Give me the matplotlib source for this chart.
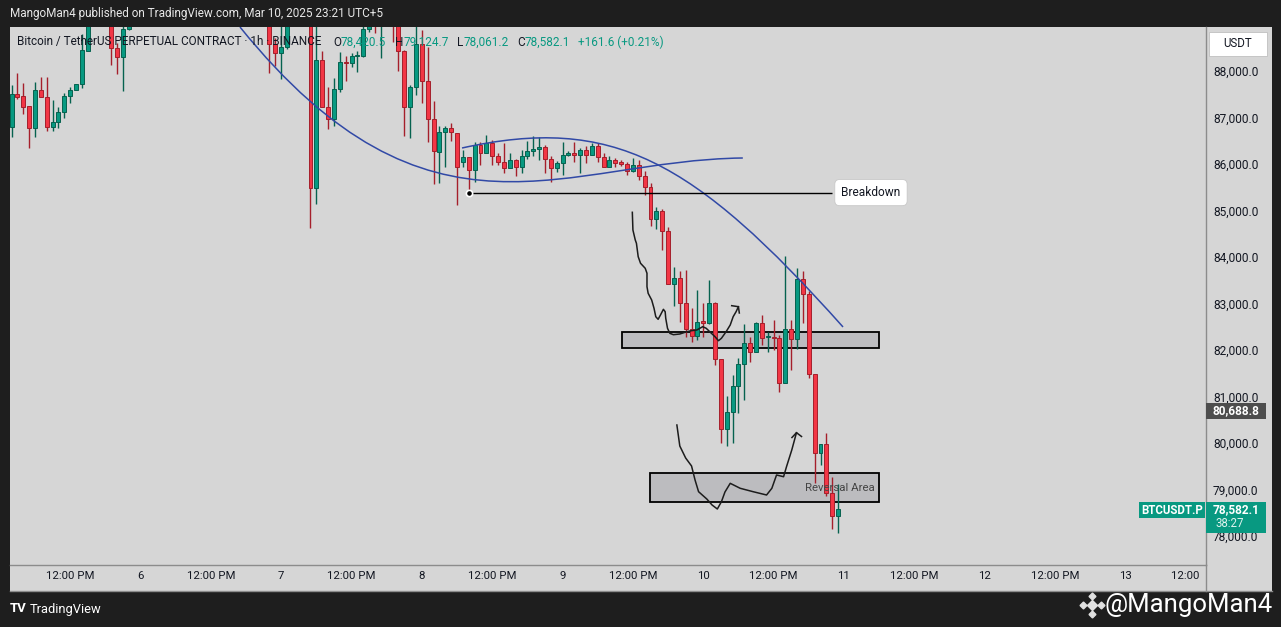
import matplotlib

matplotlib.use("Agg")
import matplotlib.pyplot as plt
import numpy as np
from matplotlib.lines import Line2D
from matplotlib.patches import PathPatch, Rectangle
from matplotlib.path import Path
from matplotlib.transforms import Bbox

W, H = 1281, 627

# hourly candles, Mar 5 02:00 .. Mar 10 23:00 (x = hours since Mar 5 00:00)
first_hour = 2
opens = [
    86800, 87500, 87460, 87250, 86770, 87590, 87430, 86800, 86900, 87110, 87460,
    87585, 87715, 88440, 89200, 89600, 89500, 89300, 88490, 88310, 88900, 89300,
    89600, 90100, 90400, 90200, 89900, 90100, 90700, 91000, 90800, 90500, 90300,
    90000, 90500, 91100, 91400, 91000, 90600, 90300, 89900, 90200, 89800, 89500,
    89400, 88590, 88380, 88510, 89300, 89900, 89800, 89500, 85480, 88240, 87220,
    86960, 87605, 88185, 88165, 88320, 88325, 88900, 89600, 89150, 89500, 89800,
    89400, 88440, 87220, 87650,
    88580, 87790, 86960, 86265, 86695, 86770, 86675, 86050, 86145, 85880, 86410,
    86235, 86450, 86165, 86035, 85915, 86080, 85930, 86165, 86270, 86325, 86365,
    86110, 85915,
    86020, 86195, 86235, 86195, 86300, 86185, 86385, 86145, 85940, 86085, 86035,
    86000, 85855, 85980, 85750, 85510, 84810, 84990, 84565, 83410, 83540, 83015,
    82445, 82310,
    82625, 82590, 83015, 81800, 80295, 80660, 81225, 81695, 82145, 81965, 82575,
    82270, 82280, 82250, 81285, 82445, 82230, 83520, 83200, 81485, 79780, 79980,
    78930, 78420.5,
]
highs = [
    87700, 87960, 87750, 87250, 87760, 87870, 87870, 87375, 87225, 87530, 87660,
    87720, 88800, 89400, 89800, 90100, 89700, 89450, 88600, 89050, 89500, 89800,
    90300, 90600, 90800, 90500, 90300, 90900, 91200, 91400, 91100, 90800, 90600,
    90700, 91300, 91700, 91600, 91200, 90900, 90500, 90400, 90500, 90000, 89900,
    89600, 88700, 89100, 89600, 90100, 90300, 90000, 89800, 89100, 88430, 87660,
    87845, 88400, 88325, 88390, 88430, 89050, 89700, 89900, 89800, 90100, 90000,
    89600, 88460, 87700, 89000,
    88880, 88510, 87355, 86815, 86820, 86880, 86675, 86300, 86145, 86465, 86480,
    86625, 86515, 86230, 86445, 86230, 86110, 86300, 86500, 86600, 86575, 86410,
    86165, 86055,
    86480, 86270, 86480, 86335, 86385, 86445, 86445, 86245, 86165, 86120, 86085,
    86035, 86120, 86085, 85855, 85585, 85070, 85025, 84650, 83780, 83705, 83720,
    82895, 83290,
    83005, 83505, 83040, 81800, 81010, 81460, 81835, 82565, 82270, 82610, 82755,
    82395, 82645, 82325, 84020, 82645, 83755, 83705, 83275, 81485, 79980, 80210,
    79260, 79124.7,
]
lows = [
    86580, 87400, 87075, 86350, 86580, 87430, 86715, 86715, 86780, 86990, 87320,
    87585, 87630, 88440, 89000, 89300, 89050, 88130, 87935, 87575, 88880, 88960,
    89400, 89900, 90000, 89700, 89500, 90000, 90400, 90600, 90300, 90000, 89800,
    89900, 90400, 90900, 90800, 90400, 90100, 89700, 89600, 89700, 89200, 89100,
    87960, 88115, 87820, 88470, 89100, 89500, 89200, 84620, 85150, 87220, 86745,
    86815, 87555, 87790, 88080, 87970, 88300, 88830, 88810, 88285, 89100, 88630,
    88005, 86600, 86550, 87485,
    87320, 86480, 85565, 85585, 85940, 86500, 85120, 85930, 85385, 85620, 85980,
    86235, 85980, 85980, 85800, 85915, 85740, 85800, 86110, 86165, 86085, 85800,
    85620, 85835,
    85765, 86165, 86050, 85815, 86030, 86185, 86050, 85940, 85930, 85930, 85960,
    85765, 85835, 85655, 85330, 84665, 84600, 84150, 83410, 82950, 82610, 82285,
    82180, 82215,
    82285, 82560, 81675, 79995, 79930, 79995, 80640, 80925, 81750, 81965, 82110,
    81965, 82000, 81105, 81285, 81570, 82015, 82590, 81390, 79135, 79525, 78860,
    78140, 78061.2,
]
closes = [
    87500, 87450, 87230, 86770, 87590, 87430, 86800, 86900, 87110, 87460, 87585,
    87715, 88450, 89200, 89600, 89500, 89300, 88490, 88310, 88900, 89300, 89600,
    90100, 90400, 90200, 89900, 90100, 90700, 91000, 90800, 90500, 90300, 90000,
    90500, 91100, 91400, 91000, 90600, 90300, 89900, 90200, 89800, 89500, 89400,
    88590, 88380, 88510, 89300, 89900, 89800, 89500, 85480, 88240, 87220, 86960,
    87605, 88185, 88170, 88325, 88330, 88900, 89600, 89150, 89500, 89800, 89400,
    88440, 87220, 87650, 88580,
    87790, 86960, 86280, 86695, 86770, 86680, 85940, 86145, 85880, 86410, 86235,
    86450, 86165, 86035, 85915, 86080, 85930, 86165, 86270, 86325, 86365, 86110,
    85915, 86020,
    86195, 86235, 86195, 86300, 86185, 86385, 86145, 85940, 86085, 86015, 86000,
    85855, 85980, 85750, 85510, 84810, 84990, 84565, 83410, 83540, 83015, 82445,
    82310, 82610,
    82590, 83015, 81800, 80295, 80660, 81225, 81695, 82145, 81965, 82575, 82250,
    82280, 82265, 81285, 82445, 82230, 83520, 83200, 81485, 79780, 79980, 78930,
    78420.5, 78582.1,
]
assert len(opens) == len(highs) == len(lows) == len(closes)

time_ticks = [12, 24, 36, 48, 60, 72, 84, 96, 108, 120, 132, 144, 156, 168, 180, 192, 204]
time_labels = ["12:00 PM", "6", "12:00 PM", "7", "12:00 PM", "8", "12:00 PM", "9",
               "12:00 PM", "10", "12:00 PM", "11", "12:00 PM", "12", "12:00 PM", "13",
               "12:00 PM"]
price_ticks = [78000, 79000, 80000, 81000, 82000, 83000, 84000, 85000, 86000, 87000, 88000]

# drawings (hour, price)
cup_arc = [(40.97, 88946), (73.38, 83893), (96.39, 86086), (126.75, 86129)]
dome_arc = [(78.85, 86344), (104.43, 87054), (118.25, 86108), (143.84, 82495)]
breakdown_hour, breakdown_end, breakdown_level = 80, 141.96, 85385
upper_zone = (106.1, 150.0, 82043, 82387)
reversal_zone = (110.9, 150.0, 78731, 79355)
alert_price = 80688.8

path_one_h = [107.9, 108.0, 108.4, 108.6, 108.9, 109.3, 110.1, 110.4, 110.4, 110.6,
              111.2, 111.6, 111.9, 112.3, 112.7, 113.2, 113.5, 113.6, 113.9, 114.3,
              114.9, 116.0, 117.2, 118.0, 118.9, 119.9, 120.5, 121.1, 122.0, 122.6,
              123.1, 123.9, 124.6, 125.1, 125.6, 126.0]
path_one_p = [84961, 84581, 84366, 84295, 84007, 83865, 83757, 83650, 83361, 83219,
              83075, 82897, 82716, 82660, 82753, 82875, 82824, 82682, 82467, 82359,
              82329, 82344, 82394, 82415, 82430, 82501, 82467, 82394, 82286, 82200,
              82252, 82394, 82538, 82716, 82824, 82931]
head_one = [(124.85, 82953), (126.0, 82931), (126.15, 82796)]

path_two_h = [115.5, 116.0, 117.0, 118.0, 118.6, 119.2, 120.6, 121.5, 122.4, 123.1,
              123.7, 124.6, 126.3, 128.5, 130.8, 131.7, 132.5, 133.7, 134.2, 135.1,
              135.9]
path_two_p = [80387, 79935, 79677, 79506, 79204, 78953, 78796, 78667, 78581, 78738,
              78946, 79133, 79026, 78953, 78882, 79026, 79312, 79275, 79490, 79850,
              80222]
head_two = [(135.13, 80118), (135.9, 80222), (136.76, 80140)]

GREEN, GREEN_EDGE = "#089981", "#06624f"
RED, RED_EDGE = "#f23645", "#a51f2b"
BG, FRAME, INK = "#d6d6d6", "#1e1e1e", "#131722"
BLUE = "#3149a6"

plt.rcParams["font.family"] = ["Roboto", "DejaVu Sans"]

fig = plt.figure(figsize=(W / 100, H / 100), dpi=100, facecolor=FRAME)
fig.add_artist(Rectangle((10 / W, 1 - 591 / H), 1262 / W, 564 / H,
                         transform=fig.transFigure, facecolor=BG, edgecolor="none", zorder=-5))
ax = fig.add_axes([10 / W, 1 - 565 / H, 1196 / W, 538 / H], facecolor=BG)
ax.set_xlim(1.74, 205.76)
ax.set_ylim(77376.5, 88946)

# zones behind candles
for h0, h1, p0, p1 in (upper_zone, reversal_zone):
    ax.add_patch(Rectangle((h0, p0), h1 - h0, p1 - p0, facecolor="#bcbcbf",
                           edgecolor="black", linewidth=1.3, zorder=1))

hours = np.arange(first_hour, first_hour + len(opens))
o, hi, lo, c = (np.array(v, dtype=float) for v in (opens, highs, lows, closes))
up = c >= o
edge = np.where(up, GREEN_EDGE, RED_EDGE)
fill = np.where(up, GREEN, RED)
ax.vlines(hours, lo, hi, colors=edge, linewidth=1.0, zorder=2)
body_low = np.minimum(o, c)
body_h = np.maximum(np.abs(c - o), 25)
ax.bar(hours, body_h, bottom=body_low, width=0.68, color=fill, edgecolor=edge,
       linewidth=0.7, zorder=3)

# arcs
for pts in (cup_arc, dome_arc):
    arc = Path(pts, [Path.MOVETO, Path.CURVE4, Path.CURVE4, Path.CURVE4])
    ax.add_patch(PathPatch(arc, facecolor="none", edgecolor=BLUE, linewidth=1.1, zorder=4))

# breakdown line + label
ax.hlines(breakdown_level, breakdown_hour, breakdown_end, color="black", linewidth=1.0, zorder=4)
ax.plot(breakdown_hour, breakdown_level, "o", ms=4.5, mfc="black", mec="white", mew=1.2, zorder=6)
ax.text(breakdown_end + 6.65, breakdown_level, "Breakdown", ha="center", va="center",
        fontsize=8.6, color=INK, zorder=7,
        bbox=dict(boxstyle="round,pad=0.55,rounding_size=0.4", facecolor="white",
                  edgecolor="#c8c8c8", linewidth=0.6))
ax.text(149.3, 79033, "Reversal Area", ha="right", va="center", fontsize=8.2,
        color="#444444", zorder=7)

# hand drawn paths
ax.plot(path_one_h, path_one_p, color="#1c1c1c", linewidth=1.1, zorder=5, solid_joinstyle="round")
ax.plot(path_two_h, path_two_p, color="#1c1c1c", linewidth=1.1, zorder=5, solid_joinstyle="round")
for head in (head_one, head_two):
    ax.plot([p[0] for p in head], [p[1] for p in head], color="#1c1c1c", linewidth=1.1, zorder=5)

# axes styling
for side in ("top", "left"):
    ax.spines[side].set_visible(False)
for side in ("right", "bottom"):
    ax.spines[side].set_color("#8c8c8c")
    ax.spines[side].set_linewidth(1.0)
ax.yaxis.tick_right()
ax.set_yticks(price_ticks)
ax.set_yticklabels([f"{v:,.1f}" for v in price_ticks])
ax.tick_params(axis="y", length=0, pad=5, labelsize=8.6, labelcolor=INK)
ax.set_xticks(time_ticks)
ax.set_xticklabels(time_labels)
ax.tick_params(axis="x", length=0, pad=4, labelsize=8.2, labelcolor=INK)
clip = Bbox.from_extents(10, 0, 1200, H)
for lbl in ax.get_xticklabels():
    lbl.set_clip_box(clip)
    lbl.set_clip_on(True)

fig.add_artist(Line2D([10 / W, 1272 / W], [1 - 591 / H] * 2, transform=fig.transFigure,
                      color="#8c8c8c", linewidth=1.0))
fig.add_artist(Line2D([1206 / W] * 2, [1 - 565 / H, 1 - 591 / H], transform=fig.transFigure,
                      color="#8c8c8c", linewidth=1.0))

# price scale labels
ytr = ax.get_yaxis_transform()
px_x = 1 / 1196
px_p = (88946 - 77376.5) / 538


def scale_box(x0, x1, p_top, p_bot, color, edgecolor="none"):
    ax.add_patch(Rectangle((x0, p_bot), x1 - x0, p_top - p_bot, transform=ytr,
                           facecolor=color, edgecolor=edgecolor, linewidth=0.6,
                           clip_on=False, zorder=8))


scale_box(1 + 3 * px_x, 1 + 61 * px_x, 88845, 88329, "white", "#c0c0c0")
ax.text(1 + 32 * px_x, 88587, "USDT", transform=ytr, ha="center", va="center",
        fontsize=8.3, color=INK, zorder=9, clip_on=False)

scale_box(1, 1 + 60 * px_x, alert_price + 8.3 * px_p, alert_price - 8.3 * px_p, "#4d4d4d")
ax.text(1 + 30 * px_x, alert_price, f"{alert_price:,.1f}", transform=ytr, ha="center",
        va="center", fontsize=8.6, color="white", fontweight="bold", zorder=9, clip_on=False)

last_close = closes[-1]
scale_box(1, 1 + 60 * px_x, 78725, 78071, GREEN)
ax.text(1 + 30 * px_x, last_close - 20, f"{last_close:,.1f}", transform=ytr, ha="center",
        va="center", fontsize=8.6, color="white", fontweight="bold", zorder=9, clip_on=False)
ax.text(1 + 24 * px_x, 78263, "38:27", transform=ytr, ha="center", va="center",
        fontsize=8.3, color="#dff3ee", zorder=9, clip_on=False)
scale_box(1 - 67 * px_x, 1 - 1 * px_x, 78725, 78381, GREEN)
ax.text(1 - 34 * px_x, 78553, "BTCUSDT.P", transform=ytr, ha="center", va="center",
        fontsize=8.3, color="white", fontweight="bold", zorder=9, clip_on=False)

# header and legend
fig.text(10 / W, 1 - 14 / H, "MangoMan4 published on TradingView.com, Mar 10, 2025 23:21 UTC+5",
         color="#e8e8e8", fontsize=8.45, ha="left", va="center")

change = closes[-1] - closes[-2]
pct = change / closes[-2] * 100
legend = [
    (17, [("Bitcoin / TetherUS PERPETUAL CONTRACT · 1h · BINANCE", INK)]),
    (333, [("O", INK), (f"{opens[-1]:,.1f}", GREEN)]),
    (395.5, [("H", INK), (f"{highs[-1]:,.1f}", GREEN)]),
    (457.5, [("L", INK), (f"{lows[-1]:,.1f}", GREEN)]),
    (517, [("C", INK), (f"{closes[-1]:,.1f}", GREEN)]),
    (578, [(f"{change:+.1f} ({pct:+.2f}%)", GREEN)]),
]
renderer = fig.canvas.get_renderer()
for x, pieces in legend:
    for s, col in pieces:
        t = fig.text(x / W, 1 - 42 / H, s, color=col, fontsize=8.5, ha="left", va="center")
        x += t.get_window_extent(renderer=renderer).width

# footer
fig.text(10 / W, 1 - 609 / H, "TV", color="white", fontsize=9.5, fontweight="bold",
         ha="left", va="center")
fig.text(30 / W, 1 - 609 / H, "TradingView", color="white", fontsize=9.3,
         ha="left", va="center")
fig.text(1273 / W, 1 - 605 / H, "@MangoMan4", color="white", fontsize=18.5,
         ha="right", va="center")
for dx, dy, ms in ((0, 0, 5), (0, -9, 3.5), (0, 9, 3.5), (-9, 0, 3.5), (9, 0, 3.5)):
    fig.add_artist(Line2D([(1092 + dx) / W], [1 - (605 + dy) / H], transform=fig.transFigure,
                          marker="D", ms=ms, color="#e0e0e0", linestyle="none"))

fig.savefig("out.png", dpi=100, facecolor=FRAME)
